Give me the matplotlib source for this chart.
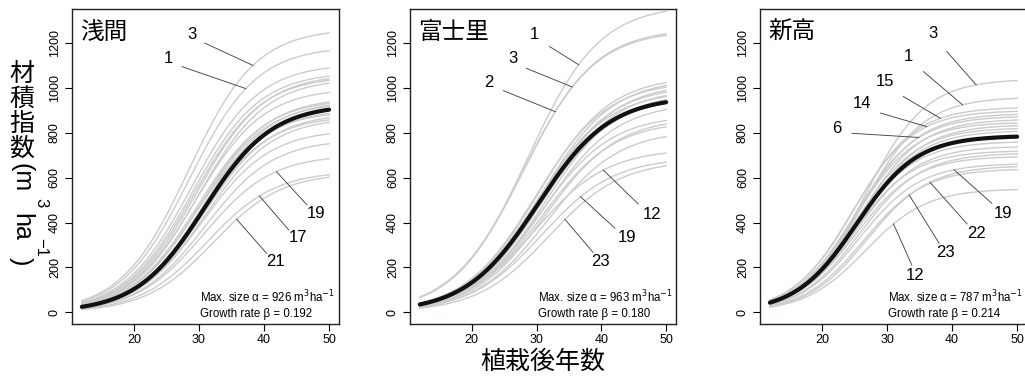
import numpy as np
import matplotlib
matplotlib.use("Agg")
import matplotlib.pyplot as plt

plt.rcParams["font.family"] = ["Liberation Sans", "Noto Sans CJK JP", "DejaVu Sans"]

# --- data -------------------------------------------------------------
site_names = ["浅間", "富士里", "新高"]
mean_alpha = [926, 963, 787]        # max size (m3/ha)
mean_beta = [0.192, 0.180, 0.214]   # growth rate
mean_gamma = [30.8, 30.2, 25.3]     # age at inflection

# individual plots: asymptote, inflection age, tag (only labelled ones)
asama_alpha = [1265, 1185, 1108, 1071, 1062, 1053, 1043, 999, 958, 950, 945,
               938, 907, 898, 889, 877, 869, 815, 771, 702, 630, 622]
asama_gamma = [28.4, 28.5, 28.8, 29.0, 29.6, 29.2, 29.9, 29.5, 30.2, 29.8, 30.6,
               30.0, 30.4, 29.6, 30.8, 30.2, 31.0, 30.6, 31.0, 30.8, 31.3, 32.2]
asama_tags = ["3", "1", "", "", "", "", "", "", "", "", "",
              "", "", "", "", "", "", "", "", "19", "17", "21"]

fujisato_alpha = [1370, 1265, 1258, 1053, 1042, 1030, 1021, 1010, 998, 988, 981,
                  960, 934, 881, 869, 853, 812, 728, 690, 678]
fujisato_gamma = [28.6, 28.0, 27.9, 30.2, 30.6, 29.8, 30.9, 30.4, 31.0, 30.0, 31.3,
                  30.6, 31.2, 30.5, 31.4, 30.8, 31.6, 29.7, 30.8, 31.9]
fujisato_tags = ["1", "3", "2", "", "", "", "", "", "", "", "",
                 "", "", "", "", "", "", "12", "19", "23"]

niitaka_alpha = [1040, 960, 915, 900, 887, 875, 862, 848, 837, 823, 811,
                 762, 741, 721, 710, 696, 664, 654, 640, 551]
niitaka_gamma = [26.6, 26.3, 24.9, 24.7, 25.5, 25.1, 25.8, 25.0, 26.0, 25.3, 25.6,
                 25.0, 25.4, 24.8, 25.9, 25.2, 25.8, 27.0, 26.4, 26.7]
niitaka_tags = ["3", "1", "15", "14", "", "6", "", "", "", "", "",
                "", "", "", "", "", "19", "22", "23", "12"]

site_alpha = [asama_alpha, fujisato_alpha, niitaka_alpha]
site_gamma = [asama_gamma, fujisato_gamma, niitaka_gamma]
site_tags = [asama_tags, fujisato_tags, niitaka_tags]

# label layout: tag, age where leader hits curve, text pos, leader start
label_layout = [
    [("3", 38.3, (28.9, 1237), (30.9, 1200)),
     ("1", 37.2, (25.3, 1133), (27.4, 1095)),
     ("19", 41.9, (48.0, 442), (46.6, 479)),
     ("17", 39.3, (45.3, 335), (43.8, 367)),
     ("21", 35.8, (41.7, 226), (40.4, 263))],
    [("1", 36.5, (29.6, 1237), (32.0, 1185)),
     ("3", 35.5, (26.3, 1133), (28.4, 1088)),
     ("2", 32.9, (22.7, 1024), (24.9, 988)),
     ("12", 40.3, (47.8, 434), (45.7, 483)),
     ("19", 36.8, (43.9, 334), (42.1, 375)),
     ("23", 34.4, (39.8, 226), (38.7, 268))],
    [("3", 43.7, (37.1, 1244), (39.2, 1162)),
     ("1", 41.6, (33.3, 1140), (35.6, 1073)),
     ("15", 38.2, (29.7, 1029), (32.5, 962)),
     ("14", 36.1, (26.1, 929), (29.0, 888)),
     ("6", 34.9, (22.3, 821), (24.6, 798)),
     ("19", 40.3, (47.9, 442), (46.1, 486)),
     ("22", 36.6, (43.8, 352), (42.3, 394)),
     ("23", 33.4, (38.9, 268), (38.0, 308)),
     ("12", 31.0, (34.3, 166), (33.8, 211))],
]

age_min, age_max = 12, 50


def logistic(t, a, b, g):
    return a / (1 + np.exp(-b * (t - g)))


# --- figure -----------------------------------------------------------
fig = plt.figure(figsize=(10.25, 3.78), dpi=100)
lefts = [0.0702, 0.400, 0.7415]
widths = [0.2605, 0.2595, 0.2605]

grey = "#c9cdcd"
t = np.linspace(age_min, age_max, 300)

for i in range(3):
    ax = fig.add_axes([lefts[i], 0.1429, widths[i], 0.8333])
    beta = mean_beta[i]
    for a, g in zip(site_alpha[i], site_gamma[i]):
        ax.plot(t, logistic(t, a, beta, g), color=grey, lw=1.0, zorder=2)
    ax.plot(t, logistic(t, mean_alpha[i], beta, mean_gamma[i]),
            color="#111111", lw=3.0, solid_capstyle="round", zorder=3)

    # leader lines + tree numbers
    tags = site_tags[i]
    for tag, age, (tx, ty), (lx, ly) in label_layout[i]:
        k = tags.index(tag)
        y_on = logistic(age, site_alpha[i][k], beta, site_gamma[i][k])
        ax.plot([lx, age], [ly, y_on], color="#444444", lw=0.65, zorder=4)
        ax.text(tx, ty, tag, fontsize=12, ha="center", va="center", zorder=5)

    ax.text(0.03, 0.925, site_names[i], transform=ax.transAxes,
            fontsize=17, ha="left", va="center")
    ax.text(0.481, 0.062,
            "Max. size α = %d m$^3$ha$^{-1}$\nGrowth rate β = %.3f"
            % (mean_alpha[i], mean_beta[i]),
            transform=ax.transAxes, fontsize=8.3, ha="left", va="center",
            linespacing=1.3)

    ax.set_xlim(10.48, 51.52)
    ax.set_ylim(-52, 1352)
    ax.set_xticks([20, 30, 40, 50])
    ax.set_yticks(range(0, 1201, 200))
    ax.tick_params(direction="out", length=5, width=0.8, labelsize=9, pad=2)
    ax.tick_params(axis="y", pad=3)
    for lab in ax.get_yticklabels():
        lab.set_rotation(90)
        lab.set_va("center")
    for sp in ax.spines.values():
        sp.set_linewidth(1.0)
        sp.set_color("#222222")

# y label drawn in vertical writing: CJK upright, latin rotated
W, H = 1025.0, 378.0
for ch, yy in zip("材積指数", [74, 99, 124, 149]):
    fig.text(21.5 / W, 1 - yy / H, ch, fontsize=18, ha="center", va="center")
fig.text(21 / W, 1 - 178 / H, "(m", fontsize=18, rotation=-90, ha="center", va="center")
fig.text(21 / W, 1 - 227 / H, "ha", fontsize=18, rotation=-90, ha="center", va="center")
fig.text(21 / W, 1 - 261 / H, ")", fontsize=18, rotation=-90, ha="center", va="center")
fig.text(41 / W, 1 - 203 / H, "3", fontsize=12, rotation=-90, ha="center", va="center")
fig.text(41 / W, 1 - 248 / H, "−1", fontsize=12, rotation=-90, ha="center", va="center")

fig.text(543 / W, 1 - 362 / H, "植栽後年数", fontsize=18, ha="center", va="center")

fig.savefig("out.png", dpi=100)
